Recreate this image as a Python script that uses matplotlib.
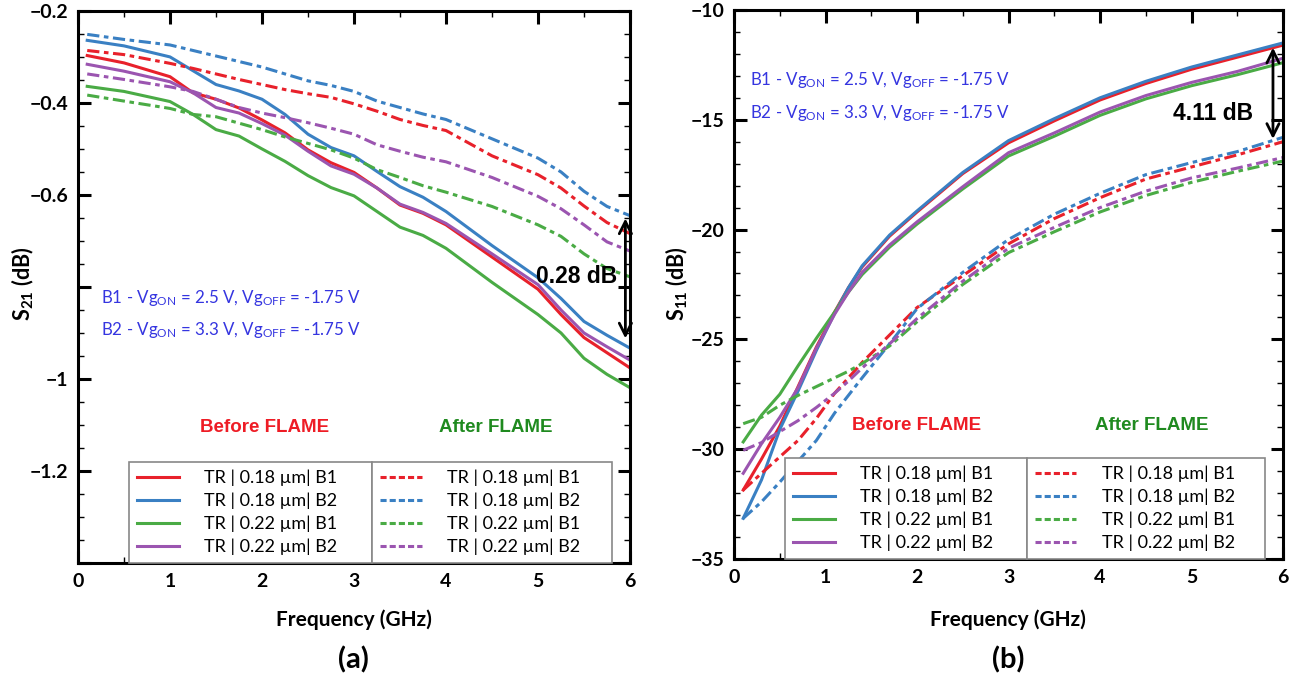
# s21_s11_flame.py - S21 / S11 before and after FLAME, two panels

import matplotlib
matplotlib.use("Agg")
import matplotlib.pyplot as plt
from matplotlib.font_manager import FontProperties
from matplotlib.lines import Line2D
from matplotlib.ticker import AutoMinorLocator

OUTPUT = "out.png"

# ---- data: panel (a) S21 ----
freq_a = [0.1, 0.5, 1.0, 1.25, 1.5, 1.75, 2.0, 2.25, 2.5, 2.75, 3.0,
          3.25, 3.5, 3.75, 4.0, 4.5, 5.0, 5.25, 5.5, 5.75, 6.0]
s21_red = [-0.297, -0.313, -0.343, -0.378, -0.392, -0.411, -0.437, -0.465, -0.502, -0.530, -0.551,
           -0.585, -0.622, -0.640, -0.665, -0.735, -0.805, -0.860, -0.910, -0.943, -0.976]
s21_blue = [-0.264, -0.276, -0.300, -0.330, -0.360, -0.374, -0.392, -0.425, -0.468, -0.497, -0.515,
            -0.549, -0.582, -0.605, -0.636, -0.710, -0.780, -0.825, -0.875, -0.905, -0.933]
s21_green = [-0.364, -0.375, -0.397, -0.425, -0.458, -0.472, -0.500, -0.527, -0.558, -0.584, -0.602,
             -0.636, -0.670, -0.688, -0.716, -0.790, -0.860, -0.900, -0.955, -0.990, -1.019]
s21_purple = [-0.316, -0.331, -0.354, -0.378, -0.410, -0.422, -0.445, -0.470, -0.505, -0.537, -0.555,
              -0.585, -0.620, -0.638, -0.662, -0.728, -0.795, -0.850, -0.900, -0.930, -0.959]
s21_red_after = [-0.286, -0.295, -0.314, -0.325, -0.337, -0.349, -0.360, -0.371, -0.380, -0.388, -0.402,
                 -0.418, -0.436, -0.449, -0.460, -0.515, -0.556, -0.585, -0.624, -0.660, -0.684]
s21_blue_after = [-0.251, -0.262, -0.274, -0.286, -0.298, -0.310, -0.322, -0.337, -0.352, -0.362, -0.375,
                  -0.396, -0.410, -0.424, -0.436, -0.478, -0.520, -0.550, -0.592, -0.625, -0.645]
s21_green_after = [-0.383, -0.396, -0.412, -0.425, -0.430, -0.444, -0.458, -0.474, -0.488, -0.502, -0.520,
                   -0.545, -0.562, -0.580, -0.594, -0.625, -0.665, -0.690, -0.728, -0.760, -0.778]
s21_purple_after = [-0.337, -0.349, -0.365, -0.375, -0.392, -0.410, -0.422, -0.432, -0.443, -0.455, -0.468,
                    -0.491, -0.505, -0.518, -0.528, -0.562, -0.603, -0.630, -0.665, -0.702, -0.722]

# ---- data: panel (b) S11 ----
freq_b = [0.1, 0.3, 0.5, 0.7, 0.9, 1.1, 1.25, 1.4, 1.7, 2.0, 2.5, 3.0, 3.5, 4.0, 4.5, 5.0, 5.5, 6.0]
s11_red = [-31.86, -30.45, -28.95, -27.15, -25.35, -23.75, -22.65, -21.7, -20.3, -19.2, -17.45,
           -16.05, -15.05, -14.1, -13.35, -12.7, -12.15, -11.6]
s11_blue = [-33.15, -31.4, -29.1, -27.35, -25.5, -23.8, -22.65, -21.65, -20.25, -19.15, -17.4,
            -15.95, -14.95, -14.0, -13.25, -12.6, -12.05, -11.5]
s11_green = [-29.67, -28.45, -27.5, -26.2, -24.95, -23.75, -22.85, -22.05, -20.8, -19.75, -18.15,
             -16.65, -15.75, -14.8, -14.05, -13.45, -12.95, -12.4]
s11_purple = [-31.1, -29.75, -28.55, -27.2, -25.4, -23.85, -22.85, -21.95, -20.7, -19.65, -18.05,
              -16.5, -15.6, -14.65, -13.9, -13.3, -12.8, -12.2]
s11_red_after = [-31.86, -31.1, -30.35, -29.6, -28.6, -27.45, -26.75, -26.05, -24.8, -23.55, -22.1,
                 -20.65, -19.5, -18.55, -17.7, -17.15, -16.6, -16.0]
s11_blue_after = [-33.15, -32.4, -31.5, -30.55, -29.6, -28.35, -27.55, -26.75, -25.2, -23.6, -21.95,
                  -20.45, -19.3, -18.35, -17.5, -16.95, -16.45, -15.8]
s11_green_after = [-28.84, -28.55, -28.0, -27.55, -27.15, -26.75, -26.45, -26.1, -25.3, -24.2, -22.5,
                   -21.05, -20.1, -19.2, -18.45, -17.85, -17.35, -16.88]
s11_purple_after = [-30.05, -29.7, -29.2, -28.7, -28.1, -27.45, -26.9, -26.3, -25.2, -24.05, -22.35,
                    -20.85, -19.9, -19.0, -18.25, -17.65, -17.2, -16.72]

labels = ["TR | 0.18 \u00b5m| B1", "TR | 0.18 \u00b5m| B2",
          "TR | 0.22 \u00b5m| B1", "TR | 0.22 \u00b5m| B2"]
bias_text = [r"B1 - Vg$_{\mathrm{ON}}$ = 2.5 V, Vg$_{\mathrm{OFF}}$ = -1.75 V",
             r"B2 - Vg$_{\mathrm{ON}}$ = 3.3 V, Vg$_{\mathrm{OFF}}$ = -1.75 V"]

colors = ["#e8212b", "#3a80c3", "#4aab45", "#9b55b0"]
DASH = (4, 1.5, 1.5, 1.5)

plt.rcParams["font.family"] = ["Lato", "DejaVu Sans"]
plt.rcParams["mathtext.fontset"] = "custom"
plt.rcParams["mathtext.rm"] = "Lato"
plt.rcParams["mathtext.it"] = "Lato:italic"
plt.rcParams["mathtext.bf"] = "Lato:bold"

head_font = FontProperties(family="Liberation Sans", weight="bold", size=13.5)
note_font = FontProperties(family="Liberation Sans", weight="bold", size=16.5)


def style_axes(ax, y_minor):
    for sp in ax.spines.values():
        sp.set_linewidth(2.2)
    ax.xaxis.set_minor_locator(AutoMinorLocator(2))
    ax.yaxis.set_minor_locator(AutoMinorLocator(y_minor))
    ax.tick_params(which="both", direction="in", top=True, right=True)
    ax.tick_params(which="major", length=9, width=2.2, labelsize=14, pad=7)
    ax.tick_params(which="minor", length=4, width=1)
    for t in ax.get_xticklabels() + ax.get_yticklabels():
        t.set_fontweight("bold")


def add_legends(ax, y_top):
    before = [Line2D([], [], color=c, lw=2.2) for c in colors]
    after = [Line2D([], [], color=c, lw=2.2, dashes=(2, 1)) for c in colors]
    common = dict(loc="lower left", mode="expand", fontsize=13, frameon=True, fancybox=False,
                  edgecolor="#888888", framealpha=1, handlelength=2.3, handletextpad=1.4,
                  labelspacing=0.35, borderpad=0.45, borderaxespad=0)
    leg1 = ax.legend(before, labels, bbox_to_anchor=(0.093, 0.0, 0.44, y_top), **common)
    leg1.get_frame().set_linewidth(1.2)
    ax.add_artist(leg1)
    leg2 = ax.legend(after, labels, bbox_to_anchor=(0.533, 0.0, 0.435, y_top), **common)
    leg2.get_frame().set_linewidth(1.2)


fig = plt.figure(figsize=(12.96, 6.82), dpi=100)

# ===== panel (a) =====
ax1 = fig.add_axes([0.0602, 0.1745, 0.4259, 0.8095])
for c, y in zip(colors, [s21_red, s21_blue, s21_green, s21_purple]):
    ax1.plot(freq_a, y, color=c, lw=2.2)
for c, y in zip(colors, [s21_red_after, s21_blue_after, s21_green_after, s21_purple_after]):
    ax1.plot(freq_a, y, color=c, lw=2.2, dashes=DASH)
ax1.set_xlim(0, 6)
ax1.set_ylim(-1.4, -0.2)
ax1.set_xticks(range(7))
ax1.set_yticks([-1.4, -1.2, -1.0, -0.8, -0.6, -0.4, -0.2])
ax1.set_yticklabels(["", "\u22121.2", "\u22121", "", "\u22120.6", "\u22120.4", "\u22120.2"])
style_axes(ax1, 4)
add_legends(ax1, 0.21)
ax1.text(2.03, -1.105, "Before FLAME", color="#ee1c25", fontproperties=head_font,
         ha="center", va="center")
ax1.text(4.54, -1.105, "After FLAME", color="#1f8a1f", fontproperties=head_font,
         ha="center", va="center")
ax1.text(0.25, -0.824, bias_text[0], color="#3535e0", fontsize=12.2, va="center")
ax1.text(0.25, -0.893, bias_text[1], color="#3535e0", fontsize=12.2, va="center")
ax1.annotate("", xy=(5.95, -0.645), xytext=(5.95, -0.918),
             arrowprops=dict(arrowstyle="<->", lw=2, color="black", mutation_scale=22))
ax1.text(5.42, -0.778, "0.28 dB", fontproperties=note_font, ha="center", va="center")

# ===== panel (b) =====
ax2 = fig.add_axes([0.5664, 0.1804, 0.4236, 0.805])
for c, y in zip(colors, [s11_red, s11_blue, s11_green, s11_purple]):
    ax2.plot(freq_b, y, color=c, lw=2.2)
for c, y in zip(colors, [s11_red_after, s11_blue_after, s11_green_after, s11_purple_after]):
    ax2.plot(freq_b, y, color=c, lw=2.2, dashes=DASH)
ax2.set_xlim(0, 6)
ax2.set_ylim(-35, -10)
ax2.set_xticks(range(7))
ax2.set_yticks([-35, -30, -25, -20, -15, -10])
ax2.set_yticklabels(["\u221235", "\u221230", "\u221225", "\u221220", "\u221215", "\u221210"])
style_axes(ax2, 5)
add_legends(ax2, (-29.74 + 35) / 25)
ax2.text(2.0, -28.9, "Before FLAME", color="#ee1c25", fontproperties=head_font,
         ha="center", va="center")
ax2.text(4.56, -28.9, "After FLAME", color="#1f8a1f", fontproperties=head_font,
         ha="center", va="center")
ax2.text(0.17, -13.2, bias_text[0], color="#3535e0", fontsize=12.2, va="center")
ax2.text(0.17, -14.7, bias_text[1], color="#3535e0", fontsize=12.2, va="center")
ax2.annotate("", xy=(5.89, -11.59), xytext=(5.89, -16.0),
             arrowprops=dict(arrowstyle="<->", lw=2, color="black", mutation_scale=22))
ax2.text(5.24, -14.7, "4.11 dB", fontproperties=note_font, ha="center", va="center")

# ===== axis titles =====
fig.text(0.273, 0.091, "Frequency (GHz)", fontsize=15, fontweight="bold", ha="center", va="center")
fig.text(0.778, 0.091, "Frequency (GHz)", fontsize=15, fontweight="bold", ha="center", va="center")
fig.text(0.273, 0.032, "(a)", fontsize=21, fontweight="bold", ha="center", va="center")
fig.text(0.778, 0.032, "(b)", fontsize=21, fontweight="bold", ha="center", va="center")
fig.text(0.018, 0.584, r"$\mathbf{S_{21}}$ (dB)", fontsize=15.5, fontweight="bold",
         rotation=90, ha="center", va="center")
fig.text(0.522, 0.584, r"$\mathbf{S_{11}}$ (dB)", fontsize=15.5, fontweight="bold",
         rotation=90, ha="center", va="center")

fig.savefig(OUTPUT, dpi=100)
